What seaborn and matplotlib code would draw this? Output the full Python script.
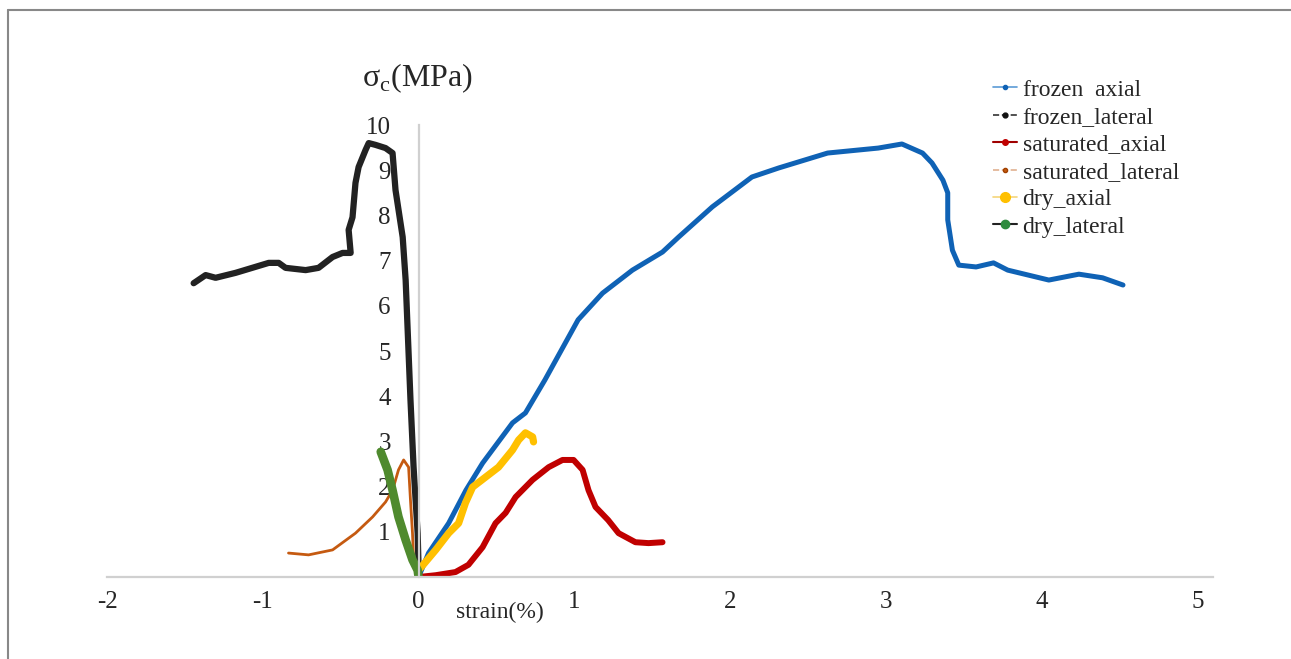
import pandas as pd
import matplotlib.pyplot as plt
import seaborn as sns
from matplotlib.lines import Line2D

# strain (%) / stress (MPa)
frozen_axial_x = [0, 0.064, 0.193, 0.304, 0.411, 0.603, 0.686, 0.811, 1.024, 1.181, 1.373, 1.566,
                  1.669, 1.886, 2.140, 2.312, 2.626, 2.951, 3.103, 3.235, 3.296, 3.366, 3.397, 3.397,
                  3.427, 3.468, 3.579, 3.691, 3.782, 3.914, 4.046, 4.239, 4.391, 4.522]
frozen_axial_y = [0, 0.53, 1.19, 1.92, 2.52, 3.41, 3.63, 4.36, 5.69, 6.28, 6.79, 7.19,
                  7.52, 8.19, 8.85, 9.05, 9.38, 9.49, 9.58, 9.38, 9.16, 8.78, 8.50, 7.90,
                  7.23, 6.90, 6.86, 6.95, 6.79, 6.68, 6.57, 6.70, 6.62, 6.46]

frozen_lateral_x = [-1.444, -1.367, -1.303, -1.174, -0.962, -0.898, -0.854, -0.725, -0.642,
                    -0.552, -0.488, -0.436, -0.449, -0.424, -0.405, -0.385, -0.340, -0.320,
                    -0.276, -0.212, -0.167, -0.148, -0.102, -0.083, -0.052, -0.032, -0.006, 0]
frozen_lateral_y = [6.50, 6.68, 6.62, 6.73, 6.95, 6.95, 6.84, 6.79, 6.84,
                    7.08, 7.17, 7.17, 7.68, 7.96, 8.72, 9.07, 9.45, 9.60,
                    9.56, 9.49, 9.38, 8.56, 7.52, 6.57, 3.92, 2.43, 0.97, 0.22]

saturated_axial_x = [0, 0.110, 0.237, 0.320, 0.411, 0.494, 0.559, 0.623, 0.732, 0.835, 0.924,
                     0.995, 1.053, 1.091, 1.136, 1.217, 1.284, 1.392, 1.476, 1.566]
saturated_axial_y = [0, 0.04, 0.11, 0.27, 0.66, 1.19, 1.42, 1.77, 2.15, 2.43, 2.59,
                     2.59, 2.37, 1.92, 1.55, 1.26, 0.97, 0.77, 0.75, 0.77]

saturated_lateral_x = [-0.835, -0.706, -0.552, -0.405, -0.295, -0.212, -0.167, -0.129, -0.096,
                       -0.064, -0.052, -0.039, -0.032, -0.019]
saturated_lateral_y = [0.53, 0.49, 0.60, 0.97, 1.33, 1.66, 1.92, 2.37, 2.59,
                       2.43, 1.70, 0.97, 0.38, 0.09]

dry_axial_x = [0, 0.110, 0.193, 0.257, 0.301, 0.347, 0.430, 0.513, 0.603, 0.642, 0.686, 0.732, 0.738]
dry_axial_y = [0.15, 0.60, 0.97, 1.19, 1.64, 1.99, 2.21, 2.43, 2.81, 3.03, 3.19, 3.10, 2.99]

dry_lateral_x = [-0.243, -0.199, -0.167, -0.129, -0.083, -0.039, -0.006, 0]
dry_lateral_y = [2.77, 2.37, 1.92, 1.33, 0.82, 0.38, 0.15, 0]

x_ticks = [-2, -1, 0, 1, 2, 3, 4, 5]
y_ticks = [1, 2, 3, 4, 5, 6, 7, 8, 9, 10]

series = [
    ("frozen  axial", frozen_axial_x, frozen_axial_y, "#0f62b5", 3.6),
    ("frozen_lateral", frozen_lateral_x, frozen_lateral_y, "#222222", 4.5),
    ("saturated_axial", saturated_axial_x, saturated_axial_y, "#c00000", 4.3),
    ("saturated_lateral", saturated_lateral_x, saturated_lateral_y, "#c55a11", 2.0),
    ("dry_axial", dry_axial_x, dry_axial_y, "#ffc000", 5.2),
    ("dry_lateral", dry_lateral_x, dry_lateral_y, "#4f8a2e", 6.2),
]

sns.set_style("white")
plt.rcParams['font.family'] = ['Liberation Serif', 'DejaVu Serif']
plt.rcParams['mathtext.fontset'] = 'custom'
plt.rcParams['mathtext.rm'] = 'Liberation Serif'

fig = plt.figure(figsize=(12.91, 6.59), dpi=100)
ax = fig.add_axes([0.0829, 0.1244, 0.8567, 0.6859])

for name, xs, ys, col, lw in series:
    d = pd.DataFrame({"strain": xs, "stress": ys})
    sns.lineplot(data=d, x="strain", y="stress", sort=False, estimator=None,
                 color=col, linewidth=lw, ax=ax)

ax.set_xlim(-2, 5.1)
ax.set_ylim(0, 10)
ax.set_xticks(x_ticks)
ax.set_yticks(y_ticks)
ax.set_xticklabels([str(v) for v in x_ticks])
ax.set_yticklabels([str(v) for v in y_ticks])
ax.tick_params(axis='both', length=0, labelsize=18)
ax.tick_params(axis='x', pad=10)
ax.tick_params(axis='y', pad=20)

for s in ['top', 'right']:
    ax.spines[s].set_visible(False)
ax.spines['left'].set_position(('data', 0))
for s in ['left', 'bottom']:
    ax.spines[s].set_color('#d0d0d0')
    ax.spines[s].set_linewidth(1.6)

ax.set_ylabel("")
ax.set_xlabel("strain(%)", fontsize=17)
ax.xaxis.set_label_coords(0.355, -0.055)
ax.text(0.281, 1.104, r"σ$_\mathregular{c}$(MPa)", transform=ax.transAxes,
        ha='center', va='center', fontsize=23)

# legend like the spreadsheet one: line with a dot
handles = [
    Line2D([], [], color="#5b9bd5", lw=1.2, marker='o', ms=3, mfc="#0f62b5", mec="#0f62b5"),
    Line2D([], [], color="#333333", lw=1.2, ls='--', marker='o', ms=3.5, mfc="#111111", mec="#111111"),
    Line2D([], [], color="#a00000", lw=1.5, marker='o', ms=4, mfc="#c00000", mec="#c00000"),
    Line2D([], [], color="#e0b090", lw=1.2, ls='--', marker='o', ms=3, mfc="#c55a11", mec="#a04000"),
    Line2D([], [], color="#f5d67a", lw=1.2, marker='o', ms=7, mfc="#ffc000", mec="#ffc000"),
    Line2D([], [], color="#222222", lw=1.5, marker='o', ms=6, mfc="#2e8b3e", mec="#2e8b3e"),
]
ax.legend(handles, [s[0] for s in series], loc='upper left',
          bbox_to_anchor=(993 / 1291, 1 - 79 / 659), bbox_transform=fig.transFigure,
          frameon=False, fontsize=17, handlelength=1.0, handletextpad=0.25,
          labelspacing=0.25, borderaxespad=0, borderpad=0)

# outer frame: only top and left edges show
fig.add_artist(Line2D([8 / 1291, 1], [1 - 10 / 659, 1 - 10 / 659], transform=fig.transFigure,
                      color='#888888', lw=1.5))
fig.add_artist(Line2D([8 / 1291, 8 / 1291], [0, 1 - 10 / 659], transform=fig.transFigure,
                      color='#888888', lw=1.5))

fig.savefig("out.png", dpi=100)
